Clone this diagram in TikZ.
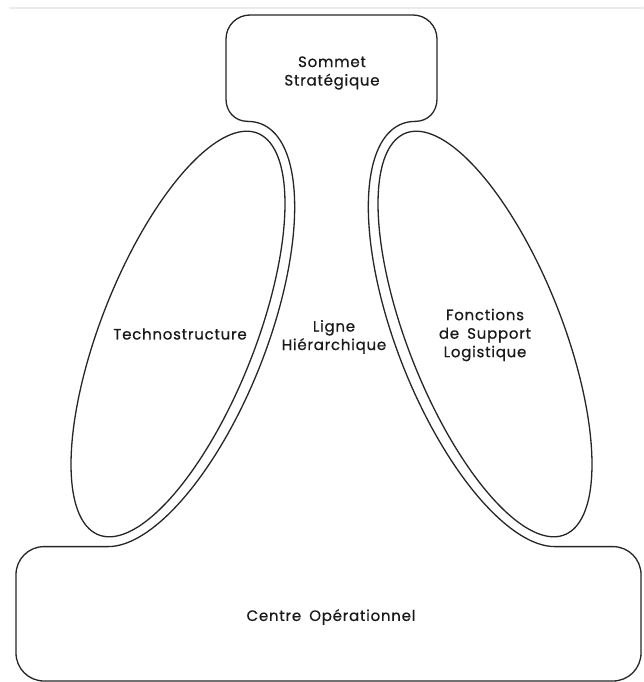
\documentclass[tikz,border=0pt]{standalone}
\usepackage{fontspec}
\setmainfont{Poppins}
\newfontfamily\lblfont{Poppins}[FakeBold=0.6, LetterSpace=5, WordSpace=1.7]
\begin{document}
\begin{tikzpicture}[x=1pt,y=-1pt, line join=round, line cap=round,
  outline/.style={draw=black!85, line width=1.3pt},
  lbl/.style={font=\lblfont\fontsize{15}{18.5}\selectfont, align=center, text=black!90, inner sep=0pt}]
\useasboundingbox (0,0) rectangle (643,682);
\fill[white] (0,0) rectangle (643,682);
\draw[black!8, line width=2pt] (10,8) -- (643,8);
% Sommet strategique (top box)
\draw[outline] (248,121.4) .. controls (235,121.4) and (226,112) .. (226,99)
  -- (226,39) .. controls (226,25.7) and (236.7,15) .. (250,15)
  -- (413,15) .. controls (426.3,15) and (437,25.7) .. (437,39)
  -- (437,99) .. controls (437,112) and (428,121.4) .. (415,121.4);
% outer neck lines (offset ellipses)
\draw[outline] plot[domain=-8.76:171.24, samples=120, smooth, variable=\t]
  ({178 + 226*cos(\t)*sin(21.6) + 88*sin(\t)*cos(21.6)}, {334 - 226*cos(\t)*cos(21.6) + 88*sin(\t)*sin(21.6)});
\draw[outline] plot[domain=-8.76:171.24, samples=120, smooth, variable=\t]
  ({485 - 226*cos(\t)*sin(21.6) - 88*sin(\t)*cos(21.6)}, {334 - 226*cos(\t)*cos(21.6) + 88*sin(\t)*sin(21.6)});
% Centre operationnel (bottom box)
\draw[outline, rounded corners=28] (108.3,546.6) -- (16,546.6) -- (16,681) -- (641,681) -- (641,546.6) -- (554.7,546.6);
% Technostructure and Fonctions de support ellipses
\draw[outline] plot[domain=0:360, samples=160, smooth cycle, variable=\t]
  ({178 + 216*cos(\t)*sin(21.6) + 77*sin(\t)*cos(21.6)}, {334 - 216*cos(\t)*cos(21.6) + 77*sin(\t)*sin(21.6)});
\draw[outline] plot[domain=0:360, samples=160, smooth cycle, variable=\t]
  ({485 - 216*cos(\t)*sin(21.6) - 77*sin(\t)*cos(21.6)}, {334 - 216*cos(\t)*cos(21.6) + 77*sin(\t)*sin(21.6)});
% labels
\node[lbl] (sommet) at (332,73) {Sommet\\Stratégique};
\node[lbl] (techno) at (180,334) {Technostructure};
\node[lbl] (ligne) at (334,337) {Ligne\\Hiérarchique};
\node[lbl] (fonctions) at (485,335) {Fonctions\\de Support\\Logistique};
\node[lbl] (centre) at (331,617) {Centre Opérationnel};
\end{tikzpicture}
\end{document}
